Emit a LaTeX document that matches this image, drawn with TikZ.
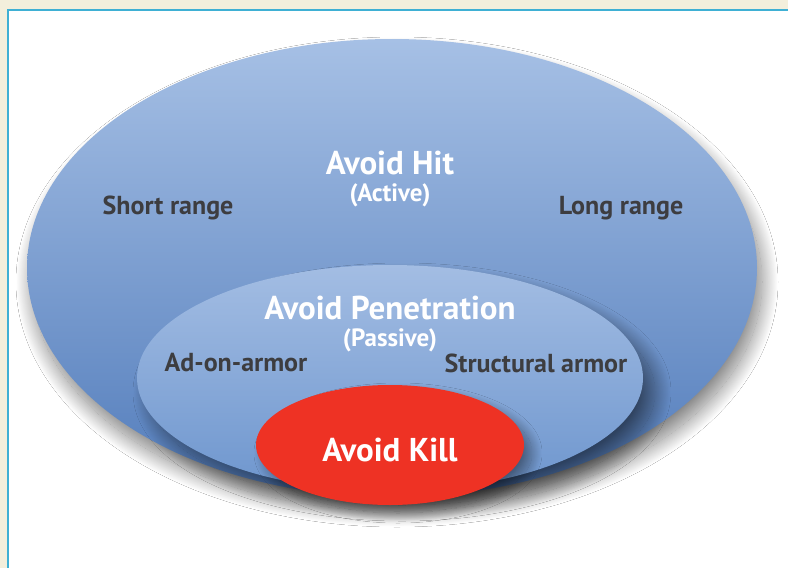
\documentclass[tikz,border=0pt]{standalone}
\usepackage{fontspec}
\setmainfont{PT Sans}
\usetikzlibrary{shapes.geometric,shadows.blur}

\definecolor{pageBeige}{HTML}{F3EFDC}
\definecolor{frameBlue}{HTML}{3FB0D4}
\definecolor{hitTop}{HTML}{A6C0E5}
\definecolor{hitBottom}{HTML}{527CBB}
\definecolor{penTop}{HTML}{A3BDE3}
\definecolor{penBottom}{HTML}{6E96CE}
\definecolor{killRed}{HTML}{EE3224}
\definecolor{labelGray}{HTML}{3D3D40}

\begin{document}
\begin{tikzpicture}[x=1pt, y=-1pt,
  zone/.style={ellipse, inner sep=0pt, draw=none},
  zoneshadow/.style={blur shadow={shadow xshift=#1, shadow yshift=-14pt, shadow blur radius=16pt, shadow blur steps=40, shadow opacity=50}},
  zonetitle/.style={text=white, font=\bfseries\fontsize{33}{35}\selectfont, inner sep=0pt},
  zonemode/.style={text=white, font=\bfseries\fontsize{25}{27}\selectfont, inner sep=0pt},
  zonelabel/.style={text=labelGray, font=\bfseries\fontsize{26}{28}\selectfont, inner sep=0pt}]
% page and frame
\fill[pageBeige] (0,0) rectangle (788,568);
\useasboundingbox (0,0) rectangle (788,568);
\filldraw[fill=white, draw=frameBlue, line width=2.5pt] (8,10) rectangle (820,600);
% nested zones
\node[zone, zoneshadow=5pt, top color=hitTop, bottom color=hitBottom, minimum width=730, minimum height=458] (hit) at (392,268) {};
\node[zone, zoneshadow=12pt, top color=penTop, bottom color=penBottom, minimum width=506, minimum height=226] (pen) at (390,378) {};
\node[zone, blur shadow={shadow xshift=8pt, shadow yshift=-8pt, shadow blur radius=10pt, shadow blur steps=30, shadow opacity=40}, fill=killRed, minimum width=268, minimum height=120] (kill) at (390,445) {};
% texts
\node[zonetitle] (hittitle) at (390,163) {Avoid Hit};
\node[zonemode] (hitmode) at (390,195) {(Active)};
\node[zonelabel] (short) at (168,208) {Short range};
\node[zonelabel] (long) at (621,208) {Long range};
\node[zonetitle] (pentitle) at (390,308) {Avoid Penetration};
\node[zonemode] (penmode) at (390,340) {(Passive)};
\node[zonelabel] (addon) at (236,363) {Ad-on-armor};
\node[zonelabel] (struct) at (536,363) {Structural armor};
\node[zonetitle] (killtitle) at (390,450) {Avoid Kill};
\end{tikzpicture}
\end{document}
